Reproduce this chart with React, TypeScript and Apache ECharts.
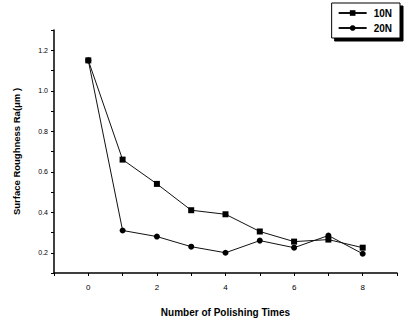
import React, { useEffect, useRef } from "react";
import * as echarts from "echarts";

const polishingTimes = [0, 1, 2, 3, 4, 5, 6, 7, 8];
const rough10N = [1.15, 0.66, 0.54, 0.41, 0.39, 0.305, 0.255, 0.265, 0.225];
const rough20N = [1.15, 0.31, 0.28, 0.23, 0.2, 0.26, 0.225, 0.285, 0.195];
const seriesNames = ["10N", "20N"];

export default function App() {
  const ref = useRef<HTMLDivElement>(null);
  useEffect(() => {
    if (!ref.current) return;
    const chart = echarts.init(ref.current, null, { renderer: "svg" });
    const font = "Liberation Sans, Arial, sans-serif";
    const toPairs = (ys: number[]) => polishingTimes.map((x, i) => [x, ys[i]]);
    chart.setOption({
      animation: false,
      backgroundColor: "#ffffff",
      textStyle: { fontFamily: font, color: "#000" },
      grid: { left: 54, top: 30, right: 14, bottom: 46, containLabel: false },
      legend: {
        orient: "vertical",
        right: 11,
        top: 3,
        data: seriesNames,
        itemWidth: 28,
        itemHeight: 7,
        itemGap: 5,
        padding: [5, 8, 5, 6],
        borderColor: "#000",
        borderWidth: 1,
        backgroundColor: "#fff",
        shadowColor: "#000",
        shadowOffsetX: 3,
        shadowOffsetY: 3,
        shadowBlur: 0,
        textStyle: { fontFamily: font, fontSize: 10, color: "#000", fontWeight: "bold", padding: [0, 0, 0, 2] },
      },
      xAxis: {
        type: "value",
        min: -1,
        max: 9,
        interval: 1,
        name: "Number of Polishing Times",
        nameLocation: "middle",
        nameGap: 34,
        nameTextStyle: { fontFamily: font, fontSize: 10, fontWeight: "bold", color: "#000" },
        axisLine: { onZero: false, lineStyle: { color: "#000", width: 1.5 } },
        axisTick: { show: true, length: 3, lineStyle: { color: "#000" } },
        axisLabel: {
          fontSize: 8,
          color: "#000",
          margin: 10,
          formatter: (v: number) => (v >= 0 && v <= 8 && v % 2 === 0 ? String(v) : ""),
        },
        splitLine: { show: false },
      },
      yAxis: {
        type: "value",
        min: 0.1,
        max: 1.3,
        interval: 0.1,
        name: "Surface Roughness Ra(μm )",
        nameLocation: "middle",
        nameGap: 33,
        nameTextStyle: { fontFamily: font, fontSize: 9.5, fontWeight: "bold", color: "#000" },
        axisLine: { show: true, onZero: false, lineStyle: { color: "#000", width: 1.5 } },
        axisTick: { show: true, length: 3, lineStyle: { color: "#000" } },
        axisLabel: {
          fontSize: 7,
          color: "#000",
          margin: 6,
          formatter: (v: number) => {
            const k = Math.round(v * 10);
            return k % 2 === 0 && k >= 2 && k <= 12 ? (k / 10).toFixed(1) : "";
          },
        },
        splitLine: { show: false },
      },
      series: [
        {
          name: seriesNames[0],
          type: "line",
          data: toPairs(rough10N),
          symbol: "rect",
          symbolSize: 6,
          itemStyle: { color: "#000" },
          lineStyle: { color: "#111", width: 1 },
        },
        {
          name: seriesNames[1],
          type: "line",
          data: toPairs(rough20N),
          symbol: "circle",
          symbolSize: 6,
          itemStyle: { color: "#000" },
          lineStyle: { color: "#111", width: 1 },
        },
      ],
    });
    return () => chart.dispose();
  }, []);
  return (
    <div
      ref={ref}
      style={{ position: "fixed", left: 0, top: 0, width: 411, height: 322, background: "#fff" }}
    />
  );
}
